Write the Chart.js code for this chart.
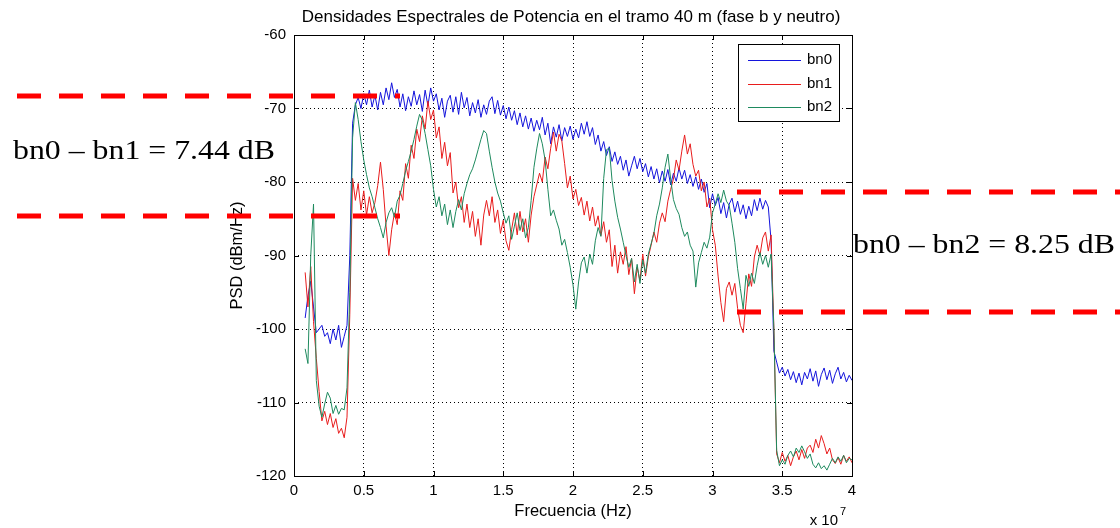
<!DOCTYPE html>
<html>
<head>
<meta charset="utf-8">
<title>Densidades Espectrales de Potencia</title>
<script src="https://cdn.jsdelivr.net/npm/chart.js@4.4.0/dist/chart.umd.min.js"></script>
<style>
  html, body { margin: 0; padding: 0; background: #fff; }
  #psdChart { display: block; }
</style>
</head>
<body>
<canvas id="psdChart" width="1120" height="528"></canvas>
<script>
// =========================
// Data (frequency in units of 10^7 Hz, PSD in dBm/Hz)
// =========================
const freqStart = 0.08;
const freqStep = 0.02;

const bn0 = [
  -98.5, -95.5, -93.5, -97, -100.5, -100, -99.5, -101, -100.5, -102,
  -100, -101.5, -99.5, -102.5, -101, -99.5, -90, -72, -69.5, -68.5,
  -70, -68, -69.5, -67.5, -69.8, -68.2, -70.2, -67.8, -69.5, -67.2,
  -68.8, -66.5, -68.5, -67.4, -69.8, -68, -70.3, -68.4, -69.7, -67.6,
  -69.5, -68.1, -70.4, -67.5, -69.6, -67.2, -69, -68, -70.2, -68.6,
  -71.2, -69, -68.2, -70.5, -68.4, -70.8, -67.8, -69.9, -68.5, -71,
  -69.2, -70.6, -68.8, -71.2, -69.5, -70.8, -69, -68.4, -70.7, -68.9,
  -70.9, -69.6, -71.4, -69.8, -71.6, -70.3, -72.2, -70.6, -72.5, -71,
  -72.8, -71.3, -73.1, -71.6, -72.9, -71.2, -73.6, -72, -74.8, -72.5,
  -73.9, -72.2, -74.4, -72.6, -73.8, -72.4, -74.2, -72.8, -74, -72,
  -73.5, -71.8, -73.8, -72.6, -74.9, -73.6, -75.8, -74.5, -76.4, -75.2,
  -77.2, -75.9, -77.6, -76.5, -78.4, -77, -79.2, -77.8, -76.5, -78.2,
  -76.8, -78.6, -77.5, -79.3, -77.9, -79.6, -78.2, -80.1, -78.5, -79.9,
  -78.3, -80.4, -78.8, -79.9, -78.1, -79.6, -78.4, -80.2, -79, -80.6,
  -79.3, -81, -79.6, -81.4, -80.2, -83.5, -81.6, -83.2, -82.1, -84.3,
  -82.8, -84.9, -83, -82.2, -84.1, -82.6, -84.4, -83.1, -85, -83.3,
  -84.6, -82.4, -83.9, -82.2, -83.7, -82.5, -83.4, -88, -103, -104.5,
  -106, -105.2, -106.4, -105.5, -106.9, -105.8, -107.3, -106, -107.6, -105.9,
  -106.8, -105.4, -107.1, -105.7, -107.8, -106.2, -105.3, -106.9, -105.6, -107.4,
  -106.1, -105.2, -106.8, -105.9, -107.2, -106.3, -107
];

const bn1 = [
  -92.3, -97, -91.5, -99, -104, -108.5, -112.5, -111.2, -113, -111.5,
  -113.4, -112.2, -114.2, -113.5, -114.8, -112, -98, -79.5, -82.5, -80.2,
  -83.8, -81.2, -84.5, -82, -84.2, -82.8, -80.5, -77.3, -81, -86,
  -90, -86.5, -84.2, -85.8, -81.2, -82.5, -77.5, -79.5, -75, -76.8,
  -72.8, -74.5, -71, -72.8, -69, -71.5, -70.2, -74, -72.5, -76.8,
  -74.6, -77.8, -76, -81.5, -80, -83.5, -82, -85.5, -83, -86.2,
  -84, -87.4, -85, -88.6, -84.5, -82.5, -84.6, -82, -85.5, -83.8,
  -87, -85.2, -88, -89.3, -86.5, -84.2, -87.2, -84, -86.8, -85,
  -88.2, -84.5, -82, -80.4, -78.8, -80, -76.6, -78.2, -75.4, -73.2,
  -75.8, -73.5, -74.4, -77.5, -80.8, -79.2, -82.3, -81, -83.2, -82.1,
  -84.5, -82.6, -85.3, -83.4, -86, -84.6, -87.3, -85.4, -88.2, -86.5,
  -91.5, -88.6, -92.4, -89.5, -91.2, -88.8, -92.6, -90.4, -95.2, -91.6,
  -93.4, -89.8, -92.8, -90.2, -88.6, -86.8, -88.2, -85.6, -84.2, -85.4,
  -82.6, -81, -79.6, -77, -78.4, -75.8, -73.6, -76.2, -74.8, -77.6,
  -79.2, -78.4, -81.2, -80, -83.4, -82.2, -86.5, -88.6, -92.8, -96.4,
  -99, -94.5, -93.6, -95.4, -93.8, -97.2, -99.5, -100.5, -96.5, -92.5,
  -94.2, -90.2, -88.6, -90, -87.6, -86.8, -89.4, -87.2, -100, -117,
  -118.2, -116.8, -118, -117.2, -118.6, -117.4, -116.6, -117.8, -116.4, -117.6,
  -116.2, -115.8, -116.8, -115, -116.2, -114.5, -115.6, -117, -116.2, -117.8,
  -118.3, -117.5, -118.4, -117.2, -118, -117.4, -118.2
];

const bn2 = [
  -102.7, -104.7, -90, -83, -107, -110.5, -112, -110.2, -108.6, -109.4,
  -111.5, -110.4, -111.6, -110.8, -111, -108, -95, -74, -69.2, -71.5,
  -74.5, -77, -79, -80.8, -82, -83.5, -85, -86.2, -87.6, -85.5,
  -84.2, -83.5, -84.8, -82.6, -81.8, -80.2, -78.5, -77.2, -75.8, -74.2,
  -72.4, -70.8, -71.6, -73.4, -75.6, -77.8, -81, -83.4, -82, -84.6,
  -83, -85.8, -83.8, -86.2, -84, -82.4, -83.8, -81.6, -80.2, -79,
  -78.2, -77, -75.6, -74.2, -73, -73.4, -75.8, -78, -80, -81.5,
  -82.6, -84.2, -85.6, -84.6, -87.8, -86, -84.2, -86.6, -85, -87.6,
  -86.2, -82.5, -78, -75.5, -73.4, -74.8, -77, -81, -84.6, -83.8,
  -85.2, -86.4, -88.6, -87.8, -89.6, -91.6, -94, -97.3, -93.6, -91,
  -90.2, -92.4, -89.8, -91.2, -88, -86.2, -87.4, -79.5, -75.6, -75.4,
  -79.8, -82.6, -84.8, -86.4, -88.2, -90, -91.6, -90.4, -93.6, -91.2,
  -93.8, -90.6, -92.4, -89.8, -88.4, -87, -84.6, -83, -80.8, -78,
  -76.2, -79.6, -82.4, -83.6, -84.4, -86.2, -87.4, -86.8, -88.6, -89.4,
  -94.3, -91, -89.6, -88.2, -89, -87.5, -84.2, -83, -81.6, -82.8,
  -81.1, -82.6, -83.2, -85.6, -88.2, -91.8, -94.5, -97.3, -92.7, -94.2,
  -92.4, -93.8, -91.4, -89.6, -91.2, -90, -91.6, -89.8, -100, -116.5,
  -118.6, -117.8, -118.4, -117.2, -116.6, -117.4, -116.2, -116.8, -115.9, -116.7,
  -117.6, -117, -118.4, -118.9, -118.2, -119, -118.6, -119.2, -118.4, -117.6,
  -118.2, -117.4, -118, -117.2, -118.2, -117.6, -117.8
];

const seriesLabels = ['bn0', 'bn1', 'bn2'];
const seriesColors = ['#1414dc', '#e81c1c', '#1e8a5e'];

const xTicks = [0, 0.5, 1, 1.5, 2, 2.5, 3, 3.5, 4];
const yTicks = [-120, -110, -100, -90, -80, -70, -60];

const chartTitle = 'Densidades Espectrales de Potencia en el tramo 40 m (fase b y neutro)';
const noteLeft = 'bn0 \u2013 bn1 = 7.44 dB';
const noteRight = 'bn0 \u2013 bn2 = 8.25 dB';

Chart.defaults.font.family = '"Liberation Sans", Arial, Helvetica, sans-serif';
Chart.defaults.color = '#000';

function toPoints(values) {
    return values.map((v, i) => ({ x: freqStart + i * freqStep, y: v }));
}

// =========================
// Frame, ticks, legend, title (MATLAB look)
// =========================
const matlabFrame = {
    id: 'matlabFrame',
    afterDatasetsDraw(chart) {
        const { ctx, chartArea: a, scales: { x, y } } = chart;
        ctx.save();
        ctx.strokeStyle = '#000';
        ctx.lineWidth = 1;

        // inside tick marks
        ctx.beginPath();
        x.ticks.forEach(t => {
            const px = Math.round(x.getPixelForValue(t.value)) + 0.5;
            ctx.moveTo(px, a.bottom); ctx.lineTo(px, a.bottom - 5);
            ctx.moveTo(px, a.top); ctx.lineTo(px, a.top + 5);
        });
        y.ticks.forEach(t => {
            const py = Math.round(y.getPixelForValue(t.value)) + 0.5;
            ctx.moveTo(a.left, py); ctx.lineTo(a.left + 5, py);
            ctx.moveTo(a.right, py); ctx.lineTo(a.right - 5, py);
        });
        ctx.stroke();
        ctx.strokeRect(Math.round(a.left) + 0.5, Math.round(a.top) + 0.5,
                       Math.round(a.width), Math.round(a.height));

        // legend box
        const lx = 738, ly = 44, lw = 101, lh = 77;
        ctx.fillStyle = '#fff';
        ctx.fillRect(lx, ly, lw, lh);
        ctx.strokeRect(lx + 0.5, ly + 0.5, lw, lh);
        ctx.font = '15px "Liberation Sans", Arial, sans-serif';
        ctx.textBaseline = 'middle';
        ctx.textAlign = 'left';
        chart.data.datasets.forEach((ds, i) => {
            const ry = 60 + i * 23.5;
            ctx.strokeStyle = ds.borderColor;
            ctx.beginPath();
            ctx.moveTo(748, Math.round(ry) + 0.5);
            ctx.lineTo(801, Math.round(ry) + 0.5);
            ctx.stroke();
            ctx.fillStyle = '#000';
            ctx.fillText(ds.label, 807, ry);
        });

        // title and exponent
        ctx.fillStyle = '#000';
        ctx.textAlign = 'center';
        ctx.font = '17px "Liberation Sans", Arial, sans-serif';
        ctx.fillText(chartTitle, 571, 17);
        ctx.textAlign = 'right';
        ctx.font = '15px "Liberation Sans", Arial, sans-serif';
        ctx.fillText('x 10', 838, 521);
        ctx.textAlign = 'left';
        ctx.font = '11px "Liberation Sans", Arial, sans-serif';
        ctx.fillText('7', 840, 512);
        ctx.restore();
    },

    // red dashed markers and notes drawn over everything
    afterDraw(chart) {
        const { ctx } = chart;
        ctx.save();
        ctx.strokeStyle = '#ff0000';
        ctx.lineWidth = 5;
        ctx.setLineDash([24, 18]);
        [[17, 400, 96], [17, 400, 216], [737, 1120, 192], [737, 1120, 312]].forEach(([x1, x2, yy]) => {
            ctx.beginPath();
            ctx.moveTo(x1, yy);
            ctx.lineTo(x2, yy);
            ctx.stroke();
        });
        ctx.setLineDash([]);
        ctx.fillStyle = '#000';
        ctx.textAlign = 'left';
        ctx.textBaseline = 'alphabetic';
        ctx.font = '28px "Liberation Serif", "Times New Roman", serif';
        const fitText = (txt, left, base, width) => {
            const w = ctx.measureText(txt).width;
            ctx.save();
            ctx.translate(left, base);
            ctx.scale(width / w, 1);
            ctx.fillText(txt, 0, 0);
            ctx.restore();
        };
        fitText(noteLeft, 13, 159, 262);
        fitText(noteRight, 853, 253, 262);
        ctx.restore();
    }
};

// =========================
// Chart
// =========================
const ctx = document.getElementById('psdChart').getContext('2d');
new Chart(ctx, {
    type: 'line',
    data: {
        datasets: [bn0, bn1, bn2].map((vals, i) => ({
            label: seriesLabels[i],
            data: toPoints(vals),
            borderColor: seriesColors[i],
            backgroundColor: seriesColors[i],
            borderWidth: 1,
            pointRadius: 0,
            tension: 0,
            order: 3 - i
        }))
    },
    options: {
        responsive: false,
        animation: false,
        layout: { padding: { left: 228, right: 268, top: 35, bottom: 0 } },
        plugins: {
            legend: { display: false },
            title: { display: false },
            tooltip: { enabled: false }
        },
        scales: {
            x: {
                type: 'linear',
                min: 0,
                max: 4,
                afterBuildTicks: s => { s.ticks = xTicks.map(v => ({ value: v })); },
                afterFit: s => { s.height = 52; },
                grid: { color: '#000', lineWidth: 1, drawTicks: false },
                border: { display: false, dash: [1, 3] },
                ticks: { padding: 6, maxRotation: 0, autoSkip: false, font: { size: 15 }, callback: v => String(v) },
                title: { display: true, text: 'Frecuencia (Hz)', font: { size: 16.5 }, padding: { top: 0, bottom: 7 } }
            },
            y: {
                type: 'linear',
                min: -120,
                max: -60,
                afterBuildTicks: s => { s.ticks = yTicks.map(v => ({ value: v })); },
                afterFit: s => { s.width = 66; },
                grid: { color: '#000', lineWidth: 1, drawTicks: false },
                border: { display: false, dash: [1, 3] },
                ticks: { padding: 8, font: { size: 15 }, callback: v => String(v) },
                title: { display: true, text: 'PSD (dBm/Hz)', font: { size: 16.5 }, padding: { top: 0, bottom: 0 } }
            }
        }
    },
    plugins: [matlabFrame]
});
</script>
</body>
</html>
